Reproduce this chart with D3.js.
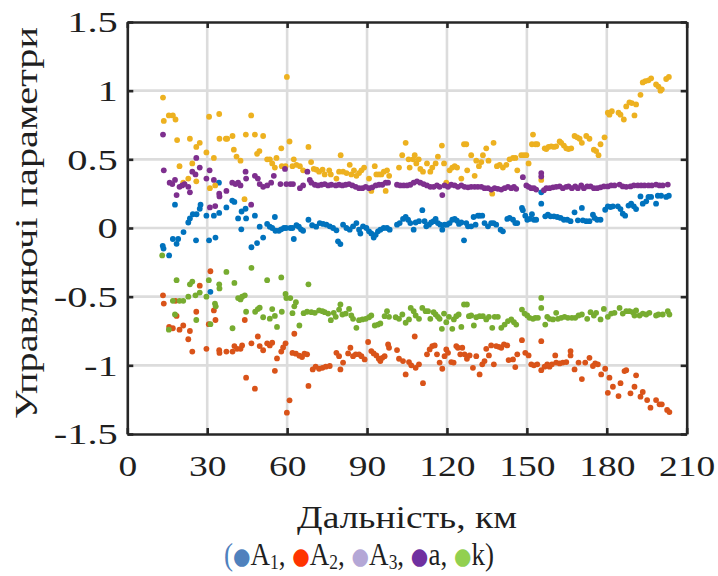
<!DOCTYPE html>
<html><head><meta charset="utf-8">
<script src="https://cdn.jsdelivr.net/npm/d3@7"></script>
<style>body{margin:0;background:#fff}svg{display:block}</style>
</head><body>
<svg id="c" width="718" height="576"></svg>
<script>
const xTicks=[0,30,60,90,120,150,180,210];
const yTicks=[-1.5,-1,-0.5,0,0.5,1,1.5];
const xTitle="Дальність, км";
const yTitle="Управляючі параметри";
const seriesNames=["A","A","A","a","k"];
const seriesSubs=["1","2","3","",""];
const seriesColors=["#0072BD","#D95319","#EDB120","#7E2F8E","#77AC30"];
const legendColors=["#4F81BD","#FF3300","#B4A7D6","#7030A0","#92D050"];

const seriesA1=[[13.3,-0.13],[13.6,-0.15],[15.7,-0.2],[17.1,-0.08],[17.9,0.17],[18.5,-0.115],[19.1,-0.08],[21.1,-0.03],[22.9,0.04],[23.5,0.07],[24.6,0.10],[25.8,-0.09],[26,0.10],[27.2,0.14],[27.5,0.17],[29.7,0.09],[30.7,-0.09],[31.2,-0.465],[32.5,0.09],[33.1,-0.07],[34.4,0.33],[34.5,0.11],[37.2,0.15],[39.4,0.2],[40.2,0.19],[41.6,0.07],[42.8,-0.01],[42.9,0.12],[44.4,0.14],[44.6,0.07],[46.6,-0.14],[47.9,0.09],[48.7,-0.11],[49.7,0.01],[51,-0.07],[52.5,0.03],[53.5,0.01],[54.4,0],[55.4,0.08],[55.6,-0.02],[56.9,-0.02],[57.8,-0.01],[58.8,0],[59.6,0],[61.2,0],[62,0],[62.5,-0.08],[63.5,0.02],[64.4,0.01],[65.2,-0.01],[66,-0.02],[68,0.06],[69.4,0.02],[70.9,0.01],[72.25,0.036],[73.5,0.03],[74.75,0.024],[76,0.012],[77.25,0],[78.5,-0.017],[79.1,-0.097],[80,-0.117],[81,0.024],[82.25,0],[83.5,-0.012],[84.75,0.012],[86,0.036],[87,-0.012],[87.5,-0.04],[88.5,0.012],[89.75,0],[90.75,-0.024],[91.6,-0.04],[92.5,-0.07],[93.25,-0.05],[94.1,-0.024],[95,-0.012],[96.25,0],[97.5,0],[98.5,-0.012],[101.25,0.024],[102.25,0.036],[103.5,0.066],[104.5,0.08],[105.4,0.06],[106.25,0.036],[107.5,-0.012],[108.25,0.04],[109.5,0.05],[110.75,0.13],[111.6,0.05],[112.25,0.012],[113.25,0.024],[114.1,0.04],[115,0.05],[115.75,0.066],[116.6,0.036],[117.5,0.024],[118.25,-0.012],[119.1,0.024],[120,0.024],[121,0.036],[122,0.06],[122.9,0.066],[123.75,0.053],[124.5,0.03],[125.4,0.04],[126.4,-0.09],[127.25,0.036],[127.9,0.012],[129.1,0.012],[130,0.08],[130.75,0.024],[131.6,0.09],[132.25,0.09],[133.25,0.09],[134.1,0.036],[135.4,0.012],[136.6,0.036],[137.5,0.036],[138.5,0.024],[140.15,-0.012],[141,-0.024],[142.65,0.066],[143.5,0.073],[144.8,0.06],[145.65,0.036],[146.4,0.036],[148.15,0.146],[148.5,0.13],[149.4,0.09],[150.15,0.06],[151,0.066],[151.9,0.1],[152.65,0.06],[153.5,0.06],[155.4,0.26],[155.4,0.177],[156.9,0.085],[157.9,0.097],[158.9,0.085],[160.15,0.085],[161.4,0.08],[162.65,0.073],[163.9,0.06],[165.15,0.06],[166.4,0.05],[167.9,0.114],[169.15,0.056],[170.65,0.146],[171,0.056],[172.3,0.05],[173.5,0.05],[174.8,0.097],[175.4,0.073],[176.4,0.06],[177.65,0.06],[179.4,0.133],[180.4,0.158],[181.4,0.153],[182.3,0.158],[184.15,0.158],[185.15,0.138],[186,0.104],[186.9,0.09],[188.15,0.163],[189.15,0.177],[190.15,0.158],[191,0.138],[192.65,0.23],[193.5,0.177],[194.8,0.194],[195.65,0.226],[196.65,0.226],[198.5,0.177],[199.15,0.235],[200.4,0.235],[202.3,0.226],[203.3,0.235]];

const seriesA2=[[13.4,-0.49],[13.7,-0.55],[15.7,-0.72],[17.1,-0.73],[18.1,-0.53],[18.5,-0.64],[19.6,-0.74],[21,-0.71],[22.9,-0.81],[23.5,-0.75],[24.4,-0.9],[25.9,-0.61],[27.2,-0.42],[29.7,-0.88],[30.6,-0.70],[31.2,-0.315],[32.5,-0.6],[33.1,-0.67],[34.5,-0.89],[34.6,-0.91],[37.2,-0.9],[39.5,-0.9],[40.2,-0.86],[41.2,-0.88],[42.5,-0.88],[43.1,-0.855],[44.1,-0.67],[44.6,-1.09],[46.6,-0.84],[47.9,-1.17],[49,-0.79],[49.7,-0.86],[51,-0.89],[52.5,-0.84],[53.5,-0.855],[54.4,-0.835],[55.4,-1.04],[56.2,-0.95],[57.8,-0.9],[58.5,-0.87],[59.4,-0.84],[59.9,-1.345],[60.9,-1.255],[62,-0.91],[62.7,-0.77],[63.3,-0.915],[64.6,-0.93],[65.6,-0.94],[66.5,-0.915],[67.5,-0.92],[68,-1.15],[69.6,-1.03],[70.7,-1.01],[72,-1.025],[73.25,-1.018],[74.5,-1.01],[76,-1.005],[78.5,-0.909],[79.5,-0.933],[80,-1.03],[81,-0.98],[82.9,-0.913],[83.75,-0.872],[84.75,-0.933],[85.75,-0.92],[87,-0.92],[87.9,-0.933],[89.1,-0.957],[90.4,-0.83],[91.6,-0.896],[92.5,-0.913],[93.5,-0.928],[94.4,-0.952],[95,-0.969],[95.75,-0.945],[96.6,-0.933],[97.9,-0.848],[98.25,-0.872],[101.25,-0.889],[102,-0.952],[103.5,-0.969],[104.5,-1.066],[105.75,-0.976],[106.6,-1.0],[107.9,-0.79],[108.25,-1.018],[109.5,-0.993],[111,-1.13],[112.5,-0.92],[113.5,-0.884],[114.5,-0.86],[115.4,-0.855],[116.25,-0.92],[117.25,-0.98],[118.25,-1.025],[119.1,-0.933],[119.75,-0.884],[120.4,-0.909],[121.6,-0.976],[122.5,-0.98],[123.5,-0.86],[124.1,-0.872],[125,-0.92],[125.75,-0.872],[126.6,-0.92],[127.5,-0.952],[128.5,-0.928],[129.75,-1.018],[131,-0.933],[132.25,-1.066],[133.25,-0.993],[134.1,-0.969],[134.75,-0.88],[135.75,-0.928],[136.6,-0.855],[137.6,-0.993],[138.5,-0.86],[139.5,-0.865],[140.4,-0.872],[141.4,-0.848],[142.65,-0.855],[143.15,-0.962],[144.8,-0.957],[145.65,-1.013],[146.4,-0.92],[148.15,-0.817],[149.4,-0.909],[150.65,-0.928],[151.65,-0.993],[152.65,-1.0],[153.9,-0.993],[155.4,-0.824],[155.4,-1.035],[156.65,-1.01],[157.65,-0.993],[158.5,-1.01],[159.4,-0.993],[160.65,-0.928],[161,-0.98],[162.3,-0.986],[163.5,-0.98],[164.8,-0.976],[166.4,-0.928],[166.4,-0.896],[167.9,-1.03],[169.4,-0.98],[170.65,-1.1],[171.9,-0.98],[173.5,-0.945],[174.8,-1.005],[175.65,-0.986],[176.65,-0.993],[177.9,-1.066],[179.4,-1.025],[180.4,-1.2],[181,-1.09],[182.3,-1.156],[184.4,-1.224],[185.15,-1.13],[186.65,-1.042],[187.3,-1.035],[188.9,-1.204],[190.4,-1.156],[191,-1.073],[192.65,-1.228],[193.5,-1.194],[195.15,-1.253],[196.4,-1.308],[198.5,-1.253],[199.8,-1.284],[200.65,-1.284],[202.65,-1.325],[203.5,-1.34]];

const seriesA3=[[13.4,0.95],[13.7,0.78],[15.6,0.82],[17.1,0.82],[18.1,0.79],[18.7,0.64],[19.6,0.45],[21,0.33],[22.9,0.36],[23.5,0.65],[24.4,0.47],[25.9,0.59],[25.9,0.34],[27.2,0.62],[29.7,0.55],[30.7,0.81],[31,0.29],[32.5,0.51],[33,0.31],[34.5,0.83],[34.6,0.65],[37,0.65],[37.5,0.65],[39.5,0.67],[40,0.57],[41,0.52],[42.5,0.49],[44,0.21],[44.5,0.68],[46.5,0.82],[47.9,0.68],[48.7,0.54],[49.6,0.56],[51,0.67],[52.5,0.5],[53.5,0.5],[54.4,0.47],[55.4,0.44],[56,0.51],[57.8,0.58],[58,0.45],[59.4,0.45],[59.9,1.10],[60.9,0.63],[62,0.45],[62.5,0.5],[63.5,0.46],[64.8,0.45],[66,0.42],[68,0.59],[69,0.48],[70,0.43],[71,0.425],[72,0.41],[73.3,0.425],[74.1,0.39],[75.8,0.42],[76.4,0.39],[78.5,0.36],[79.5,0.41],[80.1,0.53],[81,0.41],[82.3,0.40],[83.5,0.46],[84.1,0.39],[85.1,0.42],[86,0.38],[87,0.40],[87.9,0.42],[88.9,0.44],[90.75,0.36],[91.6,0.27],[92.9,0.45],[93.5,0.39],[94.5,0.39],[95.4,0.39],[96.3,0.41],[97,0.27],[97.5,0.42],[98.3,0.38],[102,0.44],[103.2,0.53],[104.5,0.62],[105.6,0.50],[106,0.44],[107.3,0.50],[107.9,0.53],[108.5,0.47],[109.4,0.50],[110,0.43],[111,0.41],[112.5,0.47],[113.75,0.41],[114.5,0.44],[115.75,0.47],[116.6,0.52],[118.1,0.60],[118.9,0.47],[119.75,0.33],[121,0.42],[122,0.44],[122.9,0.45],[123.8,0.44],[125.4,0.36],[126.4,0.61],[127.25,0.61],[127.6,0.42],[129.1,0.53],[130.4,0.38],[131,0.49],[132,0.45],[132.9,0.48],[133.5,0.53],[134.75,0.58],[135.6,0.49],[137,0.25],[137.5,0.62],[138.75,0.45],[139.8,0.46],[141,0.44],[142.3,0.46],[143.5,0.50],[144.8,0.51],[145.7,0.51],[146.4,0.42],[147.9,0.53],[148.9,0.53],[149.8,0.53],[150.65,0.47],[151.9,0.61],[152.3,0.68],[153.2,0.61],[153.9,0.61],[155.4,0.35],[156.7,0.58],[157.3,0.575],[158.15,0.59],[159.15,0.595],[160.15,0.59],[161,0.595],[162.3,0.63],[162.9,0.62],[163.9,0.60],[164.8,0.58],[165.65,0.575],[166.65,0.58],[167.9,0.67],[168.9,0.66],[169.8,0.65],[170.65,0.62],[172.3,0.67],[173.5,0.65],[175.15,0.57],[176,0.56],[176.9,0.53],[177.65,0.61],[179.15,0.66],[180.4,0.84],[181,0.825],[181.9,0.85],[184.4,0.84],[185.15,0.825],[186.4,0.79],[187.3,0.885],[188.5,0.915],[189.4,0.91],[190.4,0.82],[191,0.90],[192.65,0.97],[193.5,1.06],[194.5,1.07],[195.65,1.075],[196.65,1.09],[198.5,1.045],[199.4,1.03],[200.15,1.0],[200.65,1.01],[202.3,1.085],[203.3,1.10]];

const seriesA=[[13.4,0.68],[13.7,0.42],[15.9,0.33],[16.9,0.32],[17.9,0.35],[18.5,0.24],[19.6,0.30],[20.6,0.31],[21.5,0.32],[22.9,0.30],[23.5,0.26],[24.4,0.41],[25.6,0.39],[25.9,0.51],[27.2,0.44],[29.7,0.36],[30.9,0.42],[31,0.15],[32.5,0.35],[33,0.16],[34.5,0.25],[34.6,0.23],[37.2,0.27],[39.4,0.33],[40.6,0.32],[41.6,0.33],[42.5,0.31],[44.4,0.41],[44.6,0.36],[46.5,0.17],[47.9,0.38],[49,0.36],[49.7,0.32],[51,0.30],[52.5,0.31],[54,0.33],[55,0.38],[57.5,0.32],[59.2,0.43],[59.7,0.32],[61.2,0.32],[62.2,0.32],[64.8,0.29],[66,0.31],[67.6,0.41],[68.5,0.35],[69.1,0.33],[70.4,0.315],[71.6,0.31],[72.9,0.315],[74.1,0.32],[75.4,0.31],[76.6,0.315],[78.25,0.31],[79.5,0.315],[80.75,0.31],[82,0.315],[83.25,0.32],[84.5,0.31],[85.75,0.30],[87,0.29],[88.25,0.29],[89.5,0.30],[90.75,0.29],[92,0.296],[93.25,0.31],[94.5,0.315],[95.75,0.315],[97,0.33],[97.9,0.33],[101.25,0.315],[102.5,0.31],[103.75,0.31],[105,0.31],[106.25,0.315],[107.5,0.33],[108.75,0.34],[110,0.33],[111.25,0.32],[112.5,0.31],[113.75,0.30],[115,0.30],[116.25,0.31],[117.25,0.30],[118.25,0.24],[119.1,0.31],[120.4,0.30],[121.6,0.315],[122.9,0.31],[124.1,0.30],[125.4,0.31],[126.6,0.30],[127.9,0.296],[129.1,0.30],[130.4,0.30],[131.6,0.30],[132.9,0.30],[134.1,0.29],[135.4,0.29],[136.6,0.28],[137.9,0.29],[139.1,0.285],[140.4,0.28],[141.65,0.29],[142.9,0.30],[144.15,0.29],[145.15,0.30],[146,0.285],[148.5,0.37],[149.8,0.31],[150.65,0.30],[151.65,0.29],[152.65,0.29],[153.5,0.28],[155.4,0.40],[155.4,0.375],[156.4,0.275],[157.3,0.29],[158.5,0.29],[159.8,0.296],[161,0.30],[162.3,0.303],[163.5,0.29],[164.8,0.30],[165.65,0.303],[166.9,0.29],[168.15,0.303],[169.15,0.29],[170.4,0.31],[171.4,0.29],[172.65,0.303],[173.9,0.303],[175.15,0.29],[176.4,0.29],[177.65,0.296],[178.9,0.303],[180.4,0.303],[181.65,0.31],[182.9,0.31],[184.8,0.316],[186,0.303],[187.3,0.30],[188.9,0.303],[190.15,0.31],[191.65,0.31],[192.9,0.31],[194.15,0.31],[195.65,0.31],[196.9,0.31],[198.5,0.316],[199.8,0.31],[201,0.31],[202.9,0.316]];

const seriesK=[[13.1,-0.2],[15.6,-0.74],[17.1,-0.53],[17.9,-0.63],[18.5,-0.38],[19.6,-0.53],[21,-0.53],[22.9,-0.50],[23.5,-0.41],[24.4,-0.39],[25.6,-0.49],[25.9,-0.67],[27.2,-0.47],[29.7,-0.50],[30.6,-0.38],[31.2,-0.70],[32.9,-0.55],[33.2,-0.57],[34.5,-0.41],[34.6,-0.44],[37.2,-0.32],[39.5,-0.73],[40.2,-0.40],[41.6,-0.51],[42.5,-0.52],[43.1,-0.50],[44.1,-0.49],[44.6,-0.61],[46.6,-0.29],[48,-0.61],[49,-0.59],[49.7,-0.58],[51,-0.65],[52.5,-0.38],[53.5,-0.66],[54.4,-0.59],[55.4,-0.64],[56.2,-0.72],[57.8,-0.36],[58,-0.61],[59.4,-0.48],[59.7,-0.51],[61.2,-0.51],[62,-0.62],[62.7,-0.57],[63.3,-0.54],[64.6,-0.71],[66.2,-0.62],[67.5,-0.61],[68,-0.41],[69.1,-0.613],[70.4,-0.618],[72,-0.6],[73.25,-0.606],[74.1,-0.613],[75.4,-0.623],[76.4,-0.671],[77.5,-0.618],[78.25,-0.647],[79.5,-0.594],[80,-0.557],[80.75,-0.63],[82,-0.623],[83.25,-0.589],[84.1,-0.637],[84.75,-0.661],[86,-0.727],[87,-0.671],[88.25,-0.666],[89.5,-0.661],[90.75,-0.65],[91.6,-0.637],[92.9,-0.71],[94.1,-0.703],[95,-0.695],[96.6,-0.642],[97.5,-0.606],[98.25,-0.647],[100.75,-0.65],[102,-0.661],[103.25,-0.63],[104.5,-0.69],[105.75,-0.666],[106.4,-0.582],[107.5,-0.606],[108.25,-0.637],[109.5,-0.661],[110.75,-0.582],[112,-0.606],[112.9,-0.606],[113.75,-0.661],[115,-0.613],[115.75,-0.63],[116.6,-0.647],[117.25,-0.661],[118.1,-0.734],[118.9,-0.623],[119.75,-0.686],[120.75,-0.647],[122,-0.734],[122.6,-0.666],[123.5,-0.642],[124.4,-0.63],[125.4,-0.72],[126.4,-0.557],[127.5,-0.557],[128.25,-0.642],[129.1,-0.637],[130.1,-0.71],[131,-0.65],[132.25,-0.642],[133.5,-0.642],[134.75,-0.666],[135.75,-0.647],[137,-0.727],[137.9,-0.647],[139.1,-0.647],[140.4,-0.727],[141.65,-0.703],[142.9,-0.678],[144.15,-0.666],[145.15,-0.686],[146,-0.703],[148.15,-0.594],[149.15,-0.623],[150.15,-0.637],[151,-0.654],[152.3,-0.661],[153.15,-0.654],[154.15,-0.654],[155.4,-0.582],[155.4,-0.509],[156.9,-0.703],[157.65,-0.647],[158.5,-0.661],[159.8,-0.666],[161,-0.618],[161.65,-0.661],[162.9,-0.654],[164.15,-0.647],[165.4,-0.654],[166.9,-0.654],[168.15,-0.654],[169.4,-0.637],[170.65,-0.63],[172.65,-0.661],[173.9,-0.613],[175.15,-0.637],[176,-0.618],[177.65,-0.666],[178.9,-0.589],[180.4,-0.647],[181.65,-0.623],[182.9,-0.618],[184.8,-0.582],[186,-0.623],[187.3,-0.606],[188.5,-0.606],[189.8,-0.613],[190.4,-0.637],[191,-0.6],[192.3,-0.637],[193.5,-0.623],[194.8,-0.63],[196,-0.618],[198.5,-0.637],[199.4,-0.63],[201,-0.63],[202.9,-0.606],[203.5,-0.63]];

const allSeries=[seriesA1,seriesA2,seriesA3,seriesA,seriesK];

const svg=d3.select("#c");
const L=127.3,R=686.7,T=22,B=434;
const x=d3.scaleLinear().domain([0,210]).range([L,R]);
const y=d3.scaleLinear().domain([-1.5,1.5]).range([B,T]);
const FONT="Liberation Serif";
const axisCol="#262626";
const txtCol="#1f1f1f";

// grid
const grid=svg.append("g");
grid.selectAll("line.gx").data(xTicks.slice(1,-1)).join("line")
  .attr("x1",d=>x(d)).attr("x2",d=>x(d)).attr("y1",T).attr("y2",B)
  .attr("stroke","#dcdcdc").attr("stroke-width",2.6);
grid.selectAll("line.gy").data(yTicks.slice(1,-1)).join("line")
  .attr("y1",d=>y(d)).attr("y2",d=>y(d)).attr("x1",L).attr("x2",R)
  .attr("stroke","#dcdcdc").attr("stroke-width",2.6);

// points
allSeries.forEach((s,i)=>{
  svg.append("g").selectAll("circle").data(s).join("circle")
    .attr("cx",d=>x(d[0])).attr("cy",d=>y(d[1])).attr("r",2.9)
    .attr("fill",seriesColors[i]);
});

// axes
function styleAxis(g){
  g.select(".domain").attr("stroke",axisCol).attr("stroke-width",2.6);
  g.selectAll(".tick line").attr("stroke",axisCol).attr("stroke-width",2.6);
}
const SXb=1.25, SXl=1.35;
const gB=svg.append("g").attr("transform",`translate(0,${B})`)
  .call(d3.axisBottom(x).tickValues(xTicks).tickSize(-6).tickSizeOuter(0).tickPadding(21).tickFormat(d3.format("d")));
styleAxis(gB);
gB.selectAll("text").attr("font-family",FONT).attr("font-size",30).attr("fill",txtCol)
  .attr("transform",`scale(${SXb},1)`);
const gL=svg.append("g").attr("transform",`translate(${L},0)`)
  .call(d3.axisLeft(y).tickValues(yTicks).tickSize(-6).tickSizeOuter(0).tickPadding(7).tickFormat(d=>String(d)));
styleAxis(gL);
gL.selectAll("text").attr("font-family",FONT).attr("font-size",30).attr("fill",txtCol)
  .attr("dy","0.33em").attr("transform",`scale(${SXl},1)`);
const gT=svg.append("g").attr("transform",`translate(0,${T})`)
  .call(d3.axisTop(x).tickValues(xTicks).tickSize(-6).tickSizeOuter(0).tickFormat(""));
styleAxis(gT);
const gR=svg.append("g").attr("transform",`translate(${R},0)`)
  .call(d3.axisRight(y).tickValues(yTicks).tickSize(-6).tickSizeOuter(0).tickFormat(""));
styleAxis(gR);

// titles fitted to target widths
function fit(t,targetW){const w=t.node().getComputedTextLength();return targetW/w;}
const xt=svg.append("text").attr("font-family",FONT).attr("font-size",32).attr("fill",txtCol)
  .attr("text-anchor","middle").text(xTitle);
xt.attr("transform",`translate(407,528) scale(${fit(xt,220)},1)`);
const yt=svg.append("text").attr("font-family",FONT).attr("font-size",32).attr("fill",txtCol)
  .attr("text-anchor","middle").text(yTitle);
yt.attr("transform",`translate(37,223) rotate(-90) scale(${fit(yt,392)},1)`);

// legend line
const lg=svg.append("text").attr("font-family",FONT).attr("font-size",31).attr("fill",txtCol)
  .attr("text-anchor","middle");
lg.append("tspan").attr("fill","#4F81BD").text("(");
seriesNames.forEach((n,i)=>{
  lg.append("tspan").attr("fill",legendColors[i]).attr("font-family","DejaVu Sans").attr("font-size",23).attr("dy",-1).text("●");
  lg.append("tspan").attr("dy",1).text(n);
  if(seriesSubs[i]){
    lg.append("tspan").attr("font-size",20).attr("dy",4).text(seriesSubs[i]);
    lg.append("tspan").attr("dy",-4).text(i<4?", ":")");
  } else {
    lg.append("tspan").text(i<4?", ":")");
  }
});
lg.attr("transform",`translate(359,565) scale(${fit(lg,270)},1)`);
</script>
</body></html>
